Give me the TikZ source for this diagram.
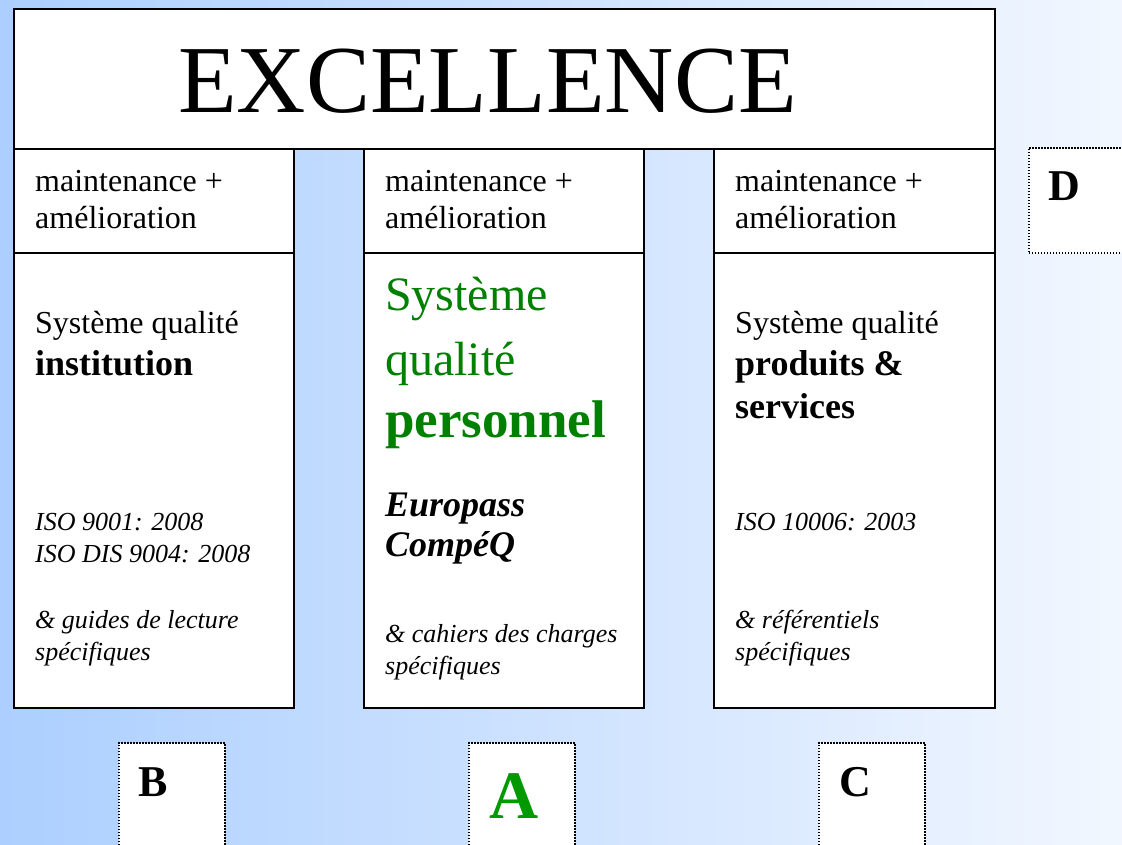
\documentclass[tikz,border=0pt]{standalone}
\usepackage{fontspec}
\setmainfont{Liberation Serif}
\definecolor{bgleft}{RGB}{172,207,255}
\definecolor{bgright}{RGB}{242,247,255}
\definecolor{qgreen}{RGB}{0,128,0}
\definecolor{agreen}{RGB}{0,153,0}

\begin{document}
\begin{tikzpicture}[x=1pt,y=-1pt,
  cell/.style={draw,line width=1.5pt,fill=white,anchor=north west,minimum width=280pt,inner sep=0pt},
  tagbox/.style={draw,line width=1.5pt,dash pattern=on 1.5pt off 1.5pt,fill=white,anchor=north west,minimum width=106pt,minimum height=140pt,inner sep=0pt},
  txt/.style={anchor=base west,inner sep=0pt,align=left},
  plaintxt/.style={font=\fontsize{32}{37}\selectfont},
  boldtxt/.style={font=\fontsize{36}{43}\selectfont\bfseries},
  isotxt/.style={font=\fontsize{26}{32}\selectfont\itshape},
  bitxt/.style={font=\fontsize{36}{40}\selectfont\bfseries\itshape},
  letter/.style={anchor=base west,inner sep=0pt,font=\fontsize{44}{50}\selectfont\bfseries}]
\useasboundingbox (0,0) rectangle (1122,844);
\clip (0,0) rectangle (1122,844);
\shade[left color=bgleft,right color=bgright] (0,0) rectangle (1122,844);

% top bar
\node[cell,minimum width=981pt,minimum height=140pt] (top) at (13,8) {};
\node[inner sep=0pt,font=\fontsize{96}{110}\selectfont] (title) at (487.5,81.5) {EXCELLENCE};

% three columns
\node[cell,minimum height=104pt] (headB) at (13,148) {};
\node[cell,minimum height=455pt] (bodyB) at (13,252) {};
\node[cell,minimum height=104pt] (headA) at (363,148) {};
\node[cell,minimum height=455pt] (bodyA) at (363,252) {};
\node[cell,minimum height=104pt,minimum width=281pt] (headC) at (713,148) {};
\node[cell,minimum height=455pt,minimum width=281pt] (bodyC) at (713,252) {};

% base of a two-line node is its last line
\node[txt,plaintxt] (maintB) at (35,228) {maintenance +\\amélioration};
\node[txt,plaintxt] (maintA) at (385,228) {maintenance +\\amélioration};
\node[txt,plaintxt] (maintC) at (735,228) {maintenance +\\amélioration};

% institution
\node[txt,plaintxt] (sysB) at (35,333) {Système qualité};
\node[txt,boldtxt] (instB) at (35,375) {institution};
\node[txt,isotxt] (isoB) at (35,562) {ISO 9001: 2008\\ISO DIS 9004: 2008};
\node[txt,isotxt] (guideB) at (35,660) {\& guides de lecture\\spécifiques};

% personnel
\node[txt,font=\fontsize{48}{65}\selectfont,text=qgreen] (sysA) at (385,375) {Système\\qualité};
\node[txt,font=\fontsize{53}{60}\selectfont\bfseries,text=qgreen] (persA) at (385,437) {personnel};
\node[txt,bitxt] (europA) at (385,556) {Europass\\CompéQ};
\node[txt,isotxt] (cahA) at (385,674) {\& cahiers des charges\\spécifiques};

% produits & services
\node[txt,plaintxt] (sysC) at (735,333) {Système qualité};
\node[txt,boldtxt] (prodC) at (735,418) {produits \&\\services};
\node[txt,isotxt] (isoC) at (735,530) {ISO 10006: 2003};
\node[txt,isotxt] (refC) at (735,660) {\& référentiels\\spécifiques};

% letter boxes
\node[tagbox] (boxB) at (118,742) {};
\node[tagbox] (boxA) at (468,742) {};
\node[tagbox] (boxC) at (818,742) {};
\node[tagbox,minimum height=105pt] (boxD) at (1028,147) {};
\node[letter] (labB) at (138,796) {B};
\node[letter,font=\fontsize{68}{70}\selectfont\bfseries,text=agreen] (labA) at (489,818) {A};
\node[letter] (labC) at (839,796) {C};
\node[letter] (labD) at (1048,200) {D};
\end{tikzpicture}
\end{document}
